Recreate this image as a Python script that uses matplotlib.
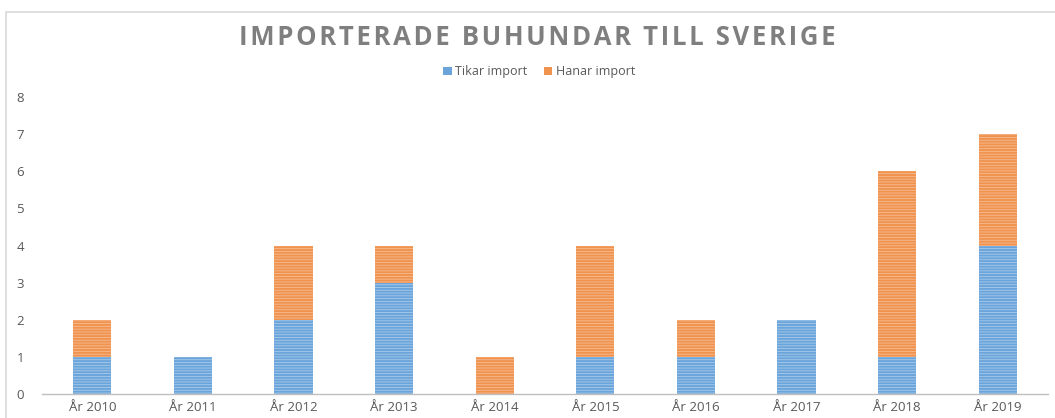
import numpy as np
import matplotlib
matplotlib.use("Agg")
import matplotlib.pyplot as plt
from matplotlib.patches import Rectangle

# Data
years = ["År 2010", "År 2011", "År 2012", "År 2013", "År 2014",
         "År 2015", "År 2016", "År 2017", "År 2018", "År 2019"]
tikar = [1, 1, 2, 3, 0, 1, 1, 2, 1, 4]
hanar = [1, 0, 2, 1, 1, 3, 1, 0, 5, 3]
yticks = [0, 1, 2, 3, 4, 5, 6, 7, 8]
title = "IMPORTERADE BUHUNDAR TILL SVERIGE"

plt.rcParams['font.family'] = ['Open Sans', 'DejaVu Sans']
plt.rcParams['hatch.linewidth'] = 0.6

fig = plt.figure(figsize=(10.55, 4.18), dpi=100)
ax = fig.add_axes([0.0398, 0.0574, 0.9536, 0.7105])

# chart frame (light grey border, cut at right and bottom)
fig.patches.append(Rectangle((6 / 1055, -0.1), 1.2, 0.1 + 1 - 12 / 418,
                             transform=fig.transFigure, fill=False,
                             edgecolor='#d9d9d9', linewidth=1.2, zorder=0))

x = np.arange(len(years))
w = 0.38
blue = '#6aa4da'
orange = '#f0934f'
ax.bar(x, tikar, w, color=blue, edgecolor='#a9cbeb', hatch='------',
       linewidth=0, label='Tikar import')
ax.bar(x, hanar, w, bottom=tikar, color=orange, edgecolor='#f6bb92',
       hatch='------', linewidth=0, label='Hanar import')

ax.set_xlim(-0.5, len(years) - 0.5)
ax.set_ylim(0, 8)
ax.set_yticks(yticks)
ax.set_xticks(x)
ax.set_xticklabels(years)
for s in ['top', 'right', 'left']:
    ax.spines[s].set_visible(False)
ax.spines['bottom'].set_color('#bfbfbf')
ax.spines['bottom'].set_linewidth(1)
ax.tick_params(axis='both', length=0, colors='#595959', labelsize=9.5)
ax.tick_params(axis='y', pad=13)
ax.tick_params(axis='x', pad=5)

# letter-spaced title (hair spaces between characters)
spaced = "\u200a".join(title)
fig.text(0.509, 0.91, spaced, ha='center', va='center',
         fontsize=18.5, fontweight='bold', color='#7f7f7f')

leg = fig.legend(loc='center', bbox_to_anchor=(0.511, 0.828), ncol=2, frameon=False,
                 fontsize=9, handlelength=0.7, handleheight=0.7, columnspacing=1.3,
                 handletextpad=0.25)
for t in leg.get_texts():
    t.set_color('#595959')
for h in leg.legend_handles:
    h.set_hatch(None)

fig.savefig("out.png", dpi=100)
